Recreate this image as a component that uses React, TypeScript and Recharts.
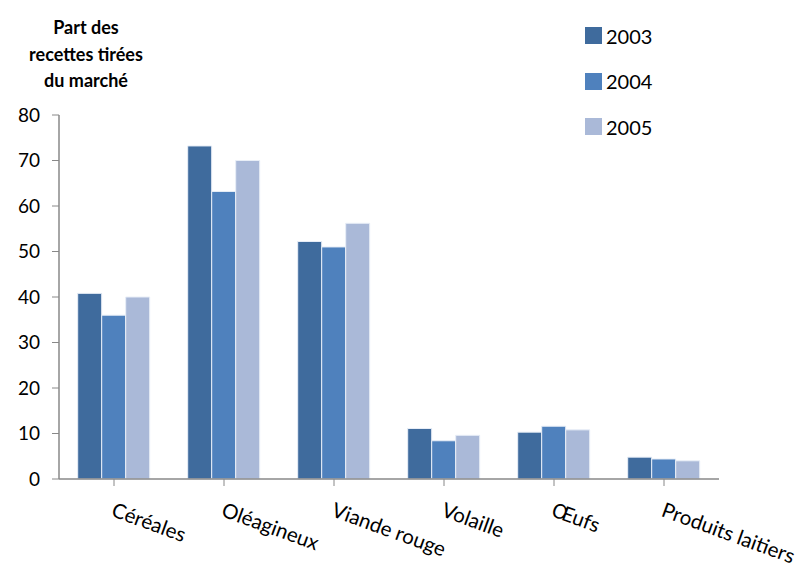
import React from "react";
import { BarChart, Bar, XAxis, YAxis } from "recharts";

const categories = ["Céréales", "Oléagineux", "Viande rouge", "Volaille", "Œufs", "Produits laitiers"];
const values2003 = [40.8, 73.2, 52.2, 11.1, 10.3, 4.8];
const values2004 = [36.0, 63.2, 51.0, 8.4, 11.6, 4.4];
const values2005 = [40.0, 70.0, 56.2, 9.6, 10.8, 4.0];
const yTicks = [0, 10, 20, 30, 40, 50, 60, 70, 80];
const seriesNames = ["2003", "2004", "2005"];
const colors = ["#3F6B9D", "#4F81BD", "#AAB9D8"];
const titleLines = ["Part des", "recettes tirées", "du marché"];

const data = categories.map((c, i) => ({
  name: c,
  "2003": values2003[i],
  "2004": values2004[i],
  "2005": values2005[i],
}));

const FONT = "Lato, 'Open Sans', sans-serif";

const XTick = (props: any) => {
  const { x, y, payload } = props;
  return (
    <g transform={`translate(${x - 2},${y + 23})`}>
      <text
        x={0}
        y={0}
        transform="rotate(20)"
        textAnchor="start"
        fontSize={20.5}
        fontFamily={FONT}
        fill="#000"
        dominantBaseline="middle"
      >
        {payload.value}
      </text>
    </g>
  );
};

export default function App() {
  return (
    <div style={{ position: "absolute", left: 0, top: 0, width: 803, height: 570, background: "#fff" }}>
      <div
        style={{
          position: "absolute",
          left: 0,
          top: 14,
          width: 172,
          textAlign: "center",
          fontFamily: FONT,
          fontWeight: 700,
          fontSize: 18,
          lineHeight: "26.5px",
          color: "#000",
        }}
      >
        {titleLines.map((l) => (
          <div key={l}>{l}</div>
        ))}
      </div>
      <div
        style={{
          position: "absolute",
          left: 585,
          top: 13,
          fontFamily: FONT,
          fontSize: 20,
          color: "#000",
        }}
      >
        {seriesNames.map((s, i) => (
          <div key={s} style={{ display: "flex", alignItems: "center", height: 45.5 }}>
            <div style={{ width: 17, height: 17, background: colors[i], marginRight: 4 }} />
            <span>{s}</span>
          </div>
        ))}
      </div>
      <BarChart
        width={803}
        height={570}
        data={data}
        margin={{ top: 115, right: 84, bottom: 0, left: 0 }}
        barCategoryGap="17%"
        barGap={0}
      >
        <XAxis
          dataKey="name"
          height={91}
          interval={0}
          tick={<XTick />}
          tickLine={{ stroke: "#888" }}
          tickSize={7}
          axisLine={{ stroke: "#888", strokeWidth: 1.5 }}
          padding={{ left: 0, right: 0 }}
        />
        <YAxis
          width={59}
          domain={[0, 80]}
          ticks={yTicks}
          interval={0}
          tickSize={7}
          tickLine={{ stroke: "#888" }}
          axisLine={{ stroke: "#888", strokeWidth: 1.5 }}
          tick={{ fontSize: 19, fontFamily: FONT, fill: "#000", dx: -10 }}
        />
        {seriesNames.map((s, i) => (
          <Bar
            key={s}
            dataKey={s}
            fill={colors[i]}
            stroke="#E8EEF7"
            strokeWidth={1}
            isAnimationActive={false}
          />
        ))}
      </BarChart>
    </div>
  );
}
